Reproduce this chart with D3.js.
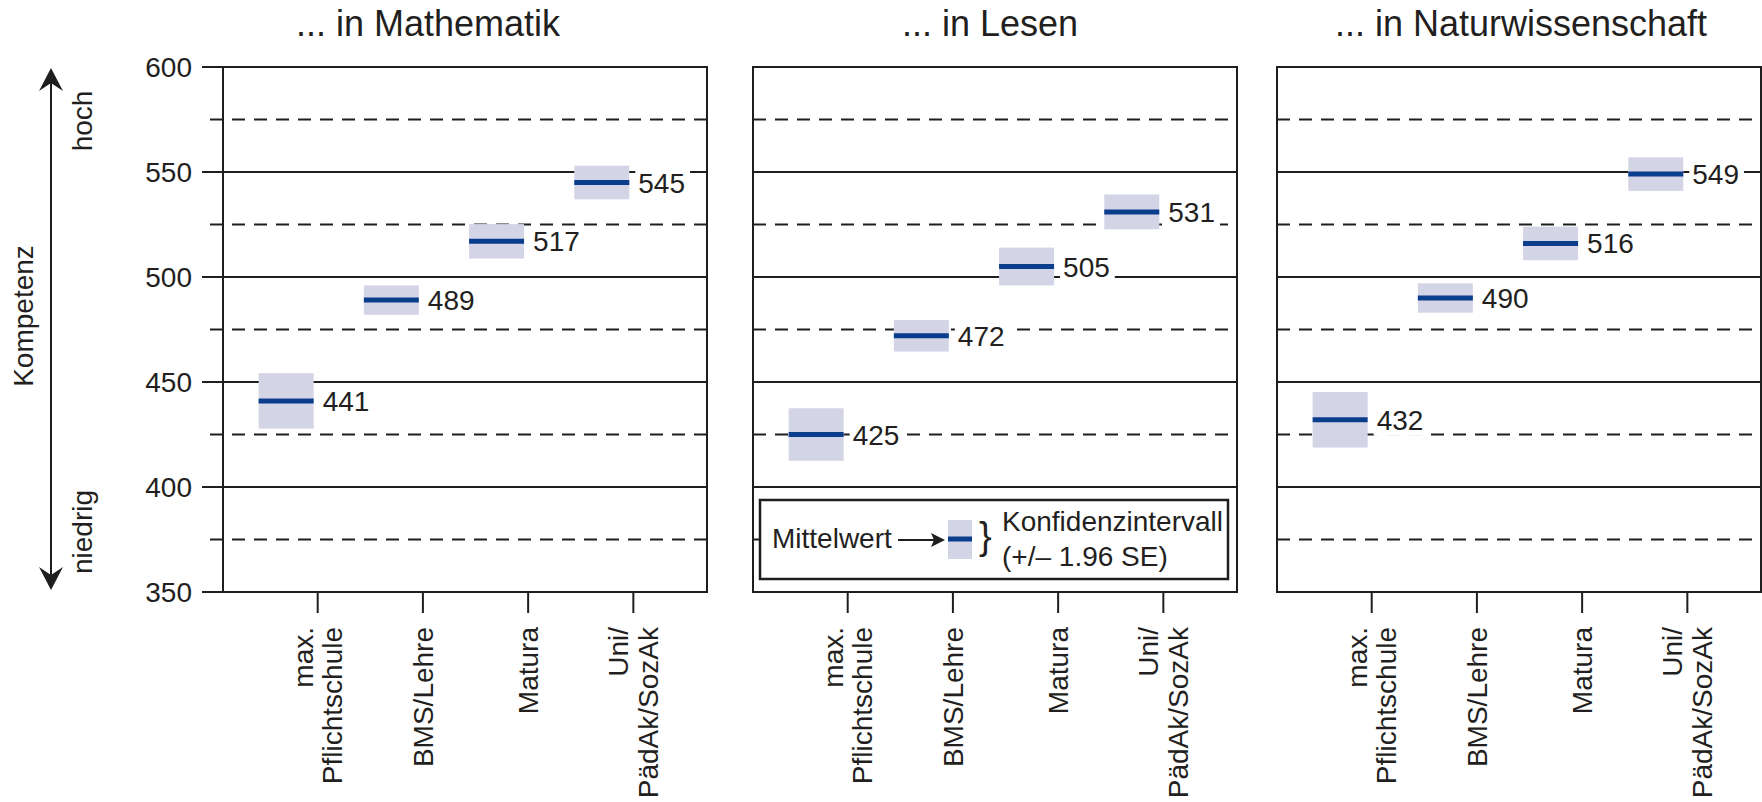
<!DOCTYPE html>
<html><head><meta charset="utf-8">
<script src="https://cdn.jsdelivr.net/npm/d3@7"></script>
<style>
body{margin:0;background:#fff;}
text{font-family:"Liberation Sans",Arial,Helvetica,sans-serif;fill:#231f20;}
</style>
</head><body>
<svg id="c" width="1762" height="802"></svg>
<script>
// ---------- data ----------
const subjects = ["... in Mathematik", "... in Lesen", "... in Naturwissenschaft"];
const categories = ["max. Pflichtschule", "BMS/Lehre", "Matura", "Uni/ PädAk/SozAk"];
const categoryLines = [["max.", "Pflichtschule"], ["BMS/Lehre"], ["Matura"], ["Uni/", "PädAk/SozAk"]];

const meanMathematik  = [441, 489, 517, 545];
const lowerMathematik = [427.8, 482, 508.8, 537];
const upperMathematik = [454.2, 496, 525.2, 553];

const meanLesen  = [425, 472, 505, 531];
const lowerLesen = [412.5, 464.5, 496, 522.7];
const upperLesen = [437.5, 479.5, 514, 539.3];

const meanNatur  = [432, 490, 516, 549];
const lowerNatur = [418.8, 483, 508, 541];
const upperNatur = [445.2, 497, 524, 557];

const yTicks = [350, 400, 450, 500, 550, 600];
const yMinorTicks = [375, 425, 475, 525, 575];

const axisTitle = "Kompetenz", highLabel = "hoch", lowLabel = "niedrig";
const legendMean = "Mittelwert", legendCI1 = "Konfidenzintervall", legendCI2 = "(+/– 1.96 SE)";

const series = [
  {means: meanMathematik, lower: lowerMathematik, upper: upperMathematik},
  {means: meanLesen, lower: lowerLesen, upper: upperLesen},
  {means: meanNatur, lower: lowerNatur, upper: upperNatur}
];

// ---------- layout ----------
const svg = d3.select("#c");
const plotTop = 67, plotBottom = 592;
const y = d3.scaleLinear().domain([350, 600]).range([plotBottom, plotTop]);
const panelLeft = [223, 753, 1277], panelW = 484;
const titleShift = [-37, -5, 2];
const boxHalf = 27.5;
const ink = "#1e1e1e", boxFill = "#d4d4e7", meanColor = "#0a3d8c";
const fs = 28;

subjects.forEach((title, p) => {
  const L = panelLeft[p], R = L + panelW;
  const g = svg.append("g");
  const x = d3.scaleLinear().domain([-0.6, 4]).range([L, R]);
  const s = series[p];

  // grid
  g.selectAll("line.maj").data(yTicks).join("line").attr("class", "maj")
    .attr("x1", p === 0 ? L - 21 : L).attr("x2", R)
    .attr("y1", d => y(d)).attr("y2", d => y(d))
    .attr("stroke", ink).attr("stroke-width", 2);
  g.selectAll("line.min").data(yMinorTicks).join("line").attr("class", "min")
    .attr("x1", p === 0 ? L - 13 : L).attr("x2", R)
    .attr("y1", d => y(d)).attr("y2", d => y(d))
    .attr("stroke", ink).attr("stroke-width", 2).attr("stroke-dasharray", "13,9");

  // CI boxes
  g.selectAll("rect.ci").data(s.means).join("rect").attr("class", "ci")
    .attr("x", (d, i) => x(i) - boxHalf).attr("width", boxHalf * 2)
    .attr("y", (d, i) => y(s.upper[i]))
    .attr("height", (d, i) => y(s.lower[i]) - y(s.upper[i]))
    .attr("fill", boxFill);
  g.selectAll("line.mean").data(s.means).join("line").attr("class", "mean")
    .attr("x1", (d, i) => x(i) - boxHalf).attr("x2", (d, i) => x(i) + boxHalf)
    .attr("y1", d => y(d)).attr("y2", d => y(d))
    .attr("stroke", meanColor).attr("stroke-width", 5);

  // value labels with white knock-out
  s.means.forEach((d, i) => {
    const bg = g.append("rect").attr("fill", "#fff");
    const t = g.append("text").attr("x", x(i) + boxHalf + 9).attr("y", y(d))
      .attr("dy", "0.36em").attr("font-size", fs).text(d);
    const b = t.node().getBBox();
    bg.attr("x", b.x - 3).attr("y", b.y).attr("width", b.width + 8).attr("height", b.height);
  });

  // border
  g.append("rect").attr("x", L).attr("y", plotTop).attr("width", panelW).attr("height", plotBottom - plotTop)
    .attr("fill", "none").attr("stroke", ink).attr("stroke-width", 2);

  // category ticks
  g.selectAll("line.ct").data(categories).join("line").attr("class", "ct")
    .attr("x1", (d, i) => x(i + 0.3)).attr("x2", (d, i) => x(i + 0.3))
    .attr("y1", plotBottom).attr("y2", plotBottom + 21)
    .attr("stroke", ink).attr("stroke-width", 2);

  // category labels
  categoryLines.forEach((lines, i) => {
    const t = g.append("text")
      .attr("transform", `translate(${x(i + 0.3)},627) rotate(-90)`)
      .attr("text-anchor", "end").attr("font-size", fs);
    lines.forEach((ln, k) => {
      t.append("tspan").attr("x", 0)
        .attr("dy", k === 0 ? (0.35 - (lines.length - 1) * 0.525) + "em" : "1.05em")
        .text(ln);
    });
  });

  // title
  g.append("text").attr("x", (L + R) / 2 + titleShift[p]).attr("y", 36)
    .attr("text-anchor", "middle").attr("font-size", 36).text(title);

  // y tick labels
  if (p === 0) {
    g.selectAll("text.yt").data(yTicks).join("text").attr("class", "yt")
      .attr("x", 192).attr("y", d => y(d)).attr("dy", "0.36em")
      .attr("text-anchor", "end").attr("font-size", fs).text(d => d);
  }

  // legend in second panel
  if (p === 1) {
    const lg = g.append("g");
    lg.append("rect").attr("x", L + 7).attr("y", 500).attr("width", panelW - 16).attr("height", 79)
      .attr("fill", "#fff").attr("stroke", ink).attr("stroke-width", 2.5);
    lg.append("text").attr("x", L + 19).attr("y", 548).attr("font-size", fs).text(legendMean);
    lg.append("line").attr("x1", L + 145).attr("x2", L + 182).attr("y1", 540).attr("y2", 540)
      .attr("stroke", ink).attr("stroke-width", 2);
    lg.append("path").attr("d", `M${L + 192},540 L${L + 178},533 L${L + 181},540 L${L + 178},547 Z`)
      .attr("fill", ink);
    lg.append("rect").attr("x", L + 195).attr("y", 520).attr("width", 24).attr("height", 39)
      .attr("fill", boxFill);
    lg.append("line").attr("x1", L + 195).attr("x2", L + 219).attr("y1", 539).attr("y2", 539)
      .attr("stroke", meanColor).attr("stroke-width", 5);
    lg.append("text").attr("x", L + 226).attr("y", 549).attr("font-size", 38).text("}");
    lg.append("text").attr("x", L + 249).attr("y", 531).attr("font-size", fs).text(legendCI1);
    lg.append("text").attr("x", L + 249).attr("y", 566).attr("font-size", fs).text(legendCI2);
  }
});

// ---------- Kompetenz axis ----------
const ax = 51;
svg.append("line").attr("x1", ax).attr("x2", ax).attr("y1", 80).attr("y2", 580)
  .attr("stroke", ink).attr("stroke-width", 2);
svg.append("path").attr("d", `M${ax},68 L${ax - 12},91 L${ax},83 L${ax + 12},91 Z`).attr("fill", ink);
svg.append("path").attr("d", `M${ax},590 L${ax - 12},567 L${ax},575 L${ax + 12},567 Z`).attr("fill", ink);
svg.append("text").attr("transform", "translate(92,121) rotate(-90)")
  .attr("text-anchor", "middle").attr("font-size", fs).text(highLabel);
svg.append("text").attr("transform", "translate(92,532) rotate(-90)")
  .attr("text-anchor", "middle").attr("font-size", fs).text(lowLabel);
svg.append("text").attr("transform", "translate(33,316) rotate(-90)")
  .attr("text-anchor", "middle").attr("font-size", fs).text(axisTitle);
</script>
</body></html>
